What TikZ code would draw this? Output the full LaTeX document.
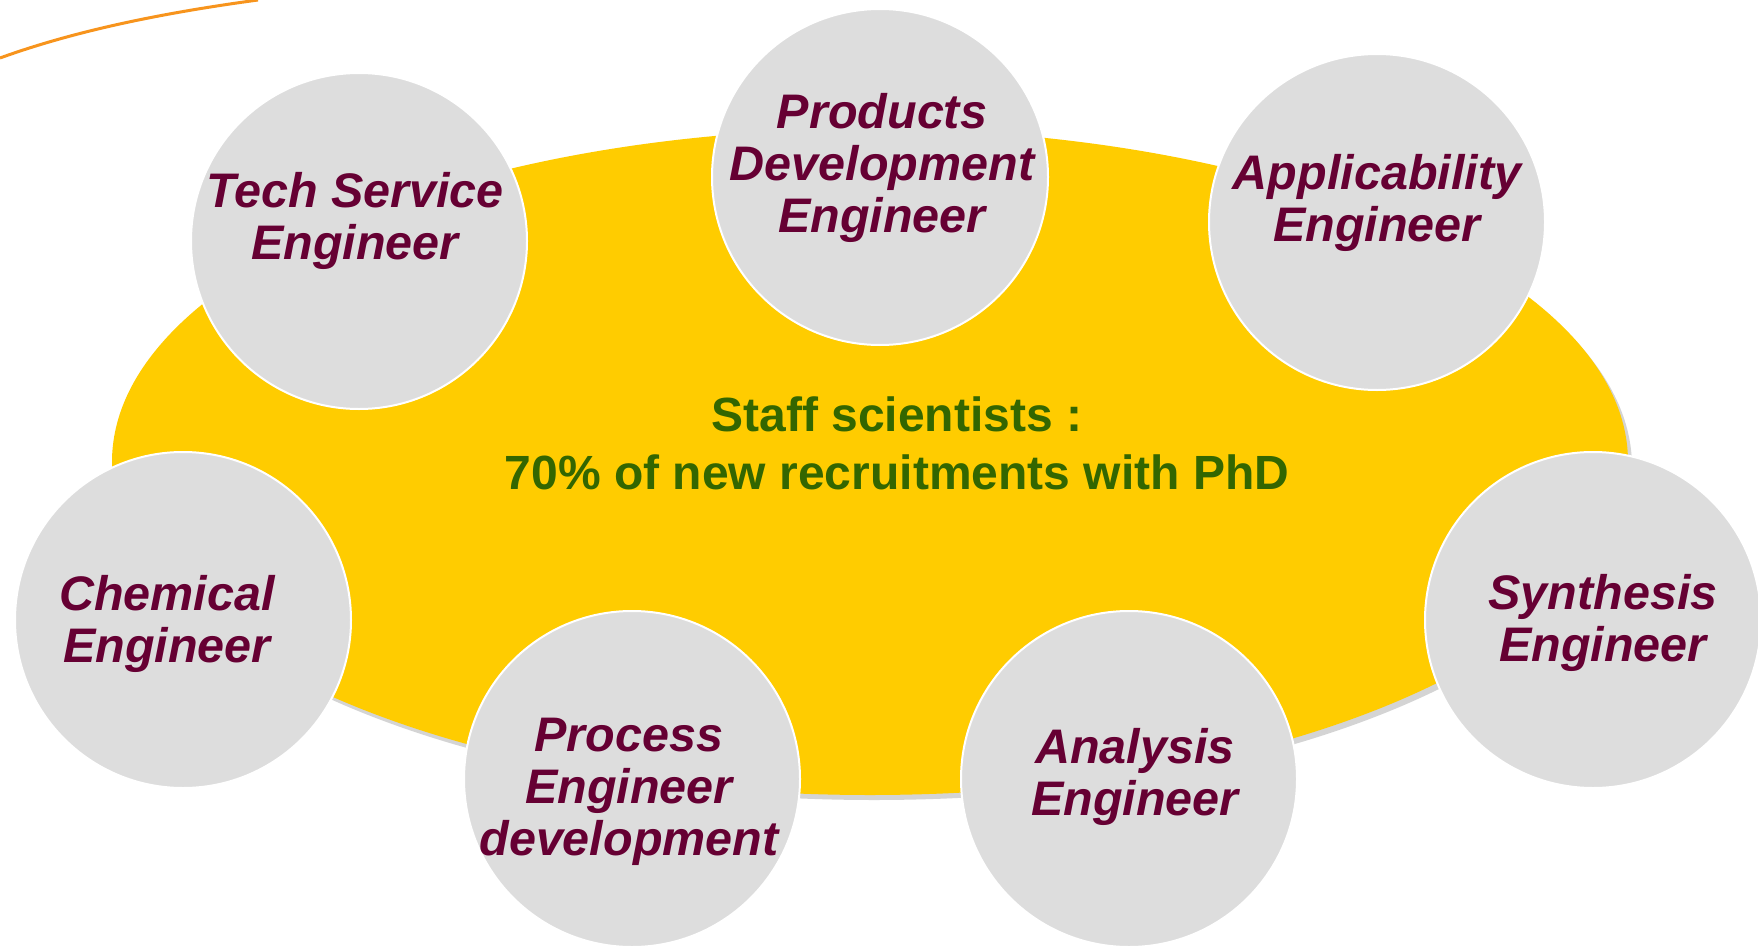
\documentclass[tikz,border=0pt]{standalone}
\usepackage{fontspec}
\setmainfont{Liberation Sans}
\usetikzlibrary{shapes.geometric}
\definecolor{ellfill}{HTML}{FFCC00}
\definecolor{circfill}{HTML}{DDDDDD}
\definecolor{maroon}{HTML}{660033}
\definecolor{dgreen}{HTML}{336600}
\definecolor{orangeline}{HTML}{F7941D}
\definecolor{shadowgray}{HTML}{D4D4D4}
\tikzset{
  role/.style={circle, fill=circfill, draw=white, line width=2pt, minimum size=336pt, inner sep=0pt},
  roletext/.style={text=maroon, font=\fontsize{48.5}{52}\selectfont\bfseries\itshape, align=center, inner sep=0pt},
  centertext/.style={text=dgreen, font=\fontsize{48}{58}\selectfont\bfseries, align=center, inner sep=0pt}
}
\begin{document}
\begin{tikzpicture}[x=1pt,y=-1pt]
\useasboundingbox (0,0) rectangle (1758,947);
\fill[white] (0,0) rectangle (1758,947);
% orange curve
\coordinate (oa) at (0,58);
\coordinate (ob) at (258,0);
\draw[orangeline, line width=3pt] (oa) .. controls (80,29) and (170,12) .. (ob);
% ellipse with shadow
\fill[shadowgray] (874,467) ellipse [x radius=758, y radius=333];
\node (ell) [ellipse, fill=ellfill, minimum width=1516pt, minimum height=666pt, inner sep=0pt] at (870,462) {};
\node[centertext] (ctext) at (897,443) {Staff scientists :\\70\% of new recruitments with PhD};
% circles
\node[role] (tech) at (359,241) {};
\node[role] (prod) at (880,177) {};
\node[role] (appl) at (1377,222) {};
\node[role] (chem) at (183,620) {};
\node[role] (proc) at (632,779) {};
\node[role] (anal) at (1129,779) {};
\node[role] (synt) at (1593,620) {};
% texts
\node[roletext] (techt) at (355,221) {Tech Service\\Engineer};
\node[roletext] (prodt) at (882,168) {Products\\Development\\Engineer};
\node[roletext] (applt) at (1377,203) {Applicability\\Engineer};
\node[roletext] (chemt) at (167,624) {Chemical\\Engineer};
\node[roletext] (proct) at (629,792) {Process\\Engineer\\development};
\node[roletext] (analt) at (1135,777) {Analysis\\Engineer};
\node[roletext] (syntt) at (1603,623) {Synthesis\\Engineer};
\end{tikzpicture}
\end{document}
